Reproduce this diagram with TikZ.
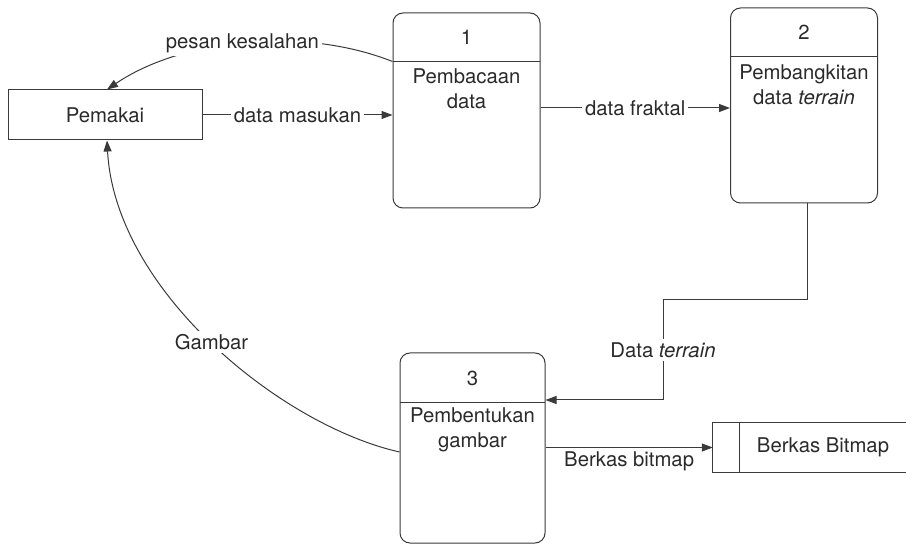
\documentclass[tikz,border=0pt]{standalone}
\usepackage{fontspec}
\setmainfont{TeX Gyre Heros}
\usetikzlibrary{arrows.meta}
\definecolor{ln}{HTML}{3A3A3A}
\definecolor{txt}{HTML}{2A2A2A}
\begin{document}
\begin{tikzpicture}[x=1pt,y=-1pt,
  every node/.style={font=\fontsize{20.3}{25}\selectfont, text=txt},
  line/.style={draw=ln, line width=1pt},
  arr/.style={line, -{Triangle[length=11pt,width=8pt]}},
  proc/.style={draw=ln, line width=1pt, rounded corners=10pt, minimum width=147pt, minimum height=195pt, inner sep=0pt},
  lbl/.style={fill=white, inner sep=3pt},
]
\useasboundingbox (0,0) rectangle (906,545);
% external entity
\node[draw=ln,line width=1pt,minimum width=194pt,minimum height=50pt,inner sep=0pt] (pem) at (105,115) {Pemakai};
% process 1
\node[proc] (p1) at (466.5,110.5) {};
\draw[line] (p1.north west) ++(0,49) coordinate (p1d) -- ++(147,0);
\node (p1n) at (466.5,37) {1};
\node[align=center] (p1t) at (466.5,88.5) {Pembacaan\\data};
% process 2
\node[proc] (p2) at (804,105.5) {};
\draw[line] (p2.north west) ++(0,49) -- ++(148,0);
\node (p2n) at (804,32) {2};
\node[align=center] (p2t) at (804,85) {Pembangkitan\\data \textit{terrain}};
% process 3
\node[proc, minimum width=145pt, minimum height=190pt] (p3) at (472.5,448) {};
\draw[line] (p3.north west) ++(0,50) -- ++(145,0);
\node (p3n) at (472.5,378) {3};
\node[align=center] (p3t) at (472.5,430) {Pembentukan\\gambar};
% data store
\node[minimum width=193pt, minimum height=49pt, inner sep=0pt] (ds) at (809.5,447.5) {};
\draw[line] (ds.north east) -- (ds.north west) -- (ds.south west) -- (ds.south east);
\draw[line] ([xshift=27pt]ds.north west) -- ([xshift=27pt]ds.south west);
\node (dst) at (823,447) {Berkas Bitmap};
% flows
\draw[arr] (pem.east) -- node[lbl]{data masukan} (pem.east -| p1.west);
\draw[arr] ([yshift=2.5pt]p1.east) -- node[lbl]{data fraktal} ([yshift=2.5pt]p1.east -| p2.west);
\draw[arr] (p1d) .. controls (300,25) and (180,40) .. node[lbl,pos=0.5]{pesan kesalahan} ([xshift=2pt]pem.north);
\draw[arr] ([yshift=-4pt]p3.west) .. controls (280,425) and (115,290) .. node[lbl,pos=0.5]{Gambar} ([xshift=2pt]pem.south);
\coordinate (t1) at (807,300);
\coordinate (t2) at (663,300);
\coordinate (t3) at (663,400);
\draw[arr] (p2.south -| t1) -- (t1) -- (t2) -- node[lbl]{Data \textit{terrain}} (t3) -- (p3.east |- t3);
\draw[arr] (p3.east |- ds.west) -- node[below, inner sep=4pt]{Berkas bitmap} (ds.west);
\end{tikzpicture}
\end{document}
